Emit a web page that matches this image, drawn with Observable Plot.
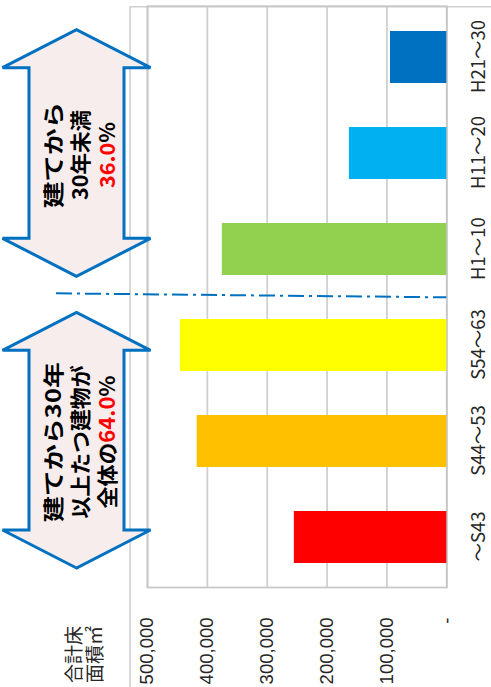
<!DOCTYPE html>
<html><head><meta charset="utf-8">
<script src="https://cdn.jsdelivr.net/npm/d3@7"></script>
<script src="https://cdn.jsdelivr.net/npm/@observablehq/plot@0.6"></script>
<style>
html,body{margin:0;padding:0;background:#fff;overflow:hidden;width:491px;height:687px}
#wrap{position:absolute;left:0;top:0;width:687px;height:491px;transform-origin:0 0;transform:rotate(-90deg) translate(-687px,0)}
</style></head><body><div id="wrap"></div>
<script>
// ---- data ----
const periods = ["～S43","S44～53","S54～63","H1～10","H11～20","H21～30"];
const floorArea = [254700, 417000, 445000, 375000, 162700, 94100];
const barColors = ["#FF0000","#FFC000","#FFFF00","#92D050","#00B0F0","#0070C0"];
const yTicks = [0, 100000, 200000, 300000, 400000, 500000];
const axisTitle = ["合計床", "面積㎡"];
const groupOld = ["～S43", "S54～63"];   // first/last period in group
const groupNew = ["H1～10", "H21～30"];
const labelOld = [[["建てから30年"]], [["以上たつ建物が"]], [["全体の"], ["64.0", "#FF0000"], ["%"]]];
const labelNew = [[["建てから"]], [["30年未満"]], [["36.0", "#FF0000"], ["%"]]];

const data = periods.map((p, i) => ({period: p, area: floorArea[i]}));
const fmt = d3.format(",");

const chart = Plot.plot({
  width: 687, height: 491,
  marginLeft: 99, marginRight: 6.7, marginTop: 147, marginBottom: 44.7,
  style: {background: "transparent", color: "#262626"},
  x: {domain: periods, paddingInner: 0.46, paddingOuter: 0.23, label: null},
  y: {domain: [0, 500000], label: null},
  color: {domain: periods, range: barColors},
  marks: [
    Plot.gridY(yTicks, {stroke: "#d0d0d0", strokeOpacity: 1, strokeWidth: 1.8}),
    Plot.frame({stroke: "#c8c8c8", strokeWidth: 1.8}),
    Plot.barY(data, {x: "period", y: "area", fill: "period"}),
    Plot.axisX({tickSize: 0, tickPadding: 25, fontSize: 18.5, fontFamily: "'Noto Sans CJK JP', sans-serif", fill: "#262626"}),
    Plot.axisY({ticks: yTicks, tickSize: 0, tickPadding: 30, fontSize: 18.5, fontFamily: "'Liberation Sans', Arial, sans-serif", fill: "#262626",
      tickFormat: d => d === 0 ? "-" : fmt(d)})
  ]
});
document.getElementById("wrap").appendChild(chart);

// ---- annotations ----
const svg = d3.select(chart);
const xsc = chart.scale("x");
const band = d3.scaleBand(xsc.domain, xsc.range)
  .paddingInner(xsc.paddingInner ?? 0.46).paddingOuter(xsc.paddingOuter ?? 0.23).align(xsc.align ?? 0.5);
const ysc = chart.scale("y");
const yl = d3.scaleLinear(ysc.domain, ysc.range);
const step = band.step(), bw = band.bandwidth(), gap = (step - bw) / 2;
const bandStart = p => band(p) - gap, bandEnd = p => band(p) + bw + gap;

// chart-area border (top & right edges visible)
svg.insert("path", ":first-child")
  .attr("d", `M-2,130H${xsc.range[1]}V495`)
  .attr("fill", "none").attr("stroke", "#d0d0d0").attr("stroke-width", 1.6);

// dash-dot divider between S54～63 and H1～10
const divX = bandEnd("S54～63");
svg.append("line")
  .attr("x1", divX + 4).attr("y1", 56).attr("x2", divX).attr("y2", yl(0))
  .attr("stroke", "#0070C0").attr("stroke-width", 2)
  .attr("stroke-dasharray", "16 5 3 5");

function arrow(x0, x1, lines, lens, cx) {
  const cy = 76.5, hh = 74, sh = 47.5, hl = 38;
  const d = `M${x0},${cy} L${x0+hl},${cy-hh} L${x0+hl},${cy-sh} L${x1-hl},${cy-sh} L${x1-hl},${cy-hh} L${x1},${cy}
    L${x1-hl},${cy+hh} L${x1-hl},${cy+sh} L${x0+hl},${cy+sh} L${x0+hl},${cy+hh} Z`;
  svg.append("path").attr("d", d).attr("fill", "#f7eded").attr("stroke", "#0070C0")
    .attr("stroke-width", 3).attr("stroke-linejoin", "miter");
  const ys = [52, 78.5, 106];
  lines.forEach((segs, i) => {
    const t = svg.append("text").attr("x", cx).attr("y", ys[i])
      .attr("text-anchor", "middle").attr("dominant-baseline", "central")
      .attr("font-family", "'Noto Sans CJK JP', sans-serif").attr("font-weight", "bold")
      .attr("font-size", 21).attr("fill", "#000")
      .attr("textLength", lens[i]).attr("lengthAdjust", "spacingAndGlyphs");
    segs.forEach(([s, c]) => t.append("tspan").attr("fill", c || "#000").text(s));
  });
}
arrow(bandStart(groupOld[0]) + 20, bandEnd(groupOld[1]) - 15, labelOld, [160, 153, 133], 245);
arrow(bandStart(groupNew[0]) + 21, bandEnd(groupNew[1]) - 23, labelNew, [106, 90, 66], 532);

// axis title
const tt = svg.append("text").attr("font-family", "'Noto Sans CJK JP', sans-serif")
  .attr("text-anchor", "start")
  .attr("font-size", 19).attr("fill", "#262626");
axisTitle.forEach((s, i) => tt.append("tspan").attr("x", 4).attr("y", 80.5 + i * 21.5).text(s));
</script></body></html>
